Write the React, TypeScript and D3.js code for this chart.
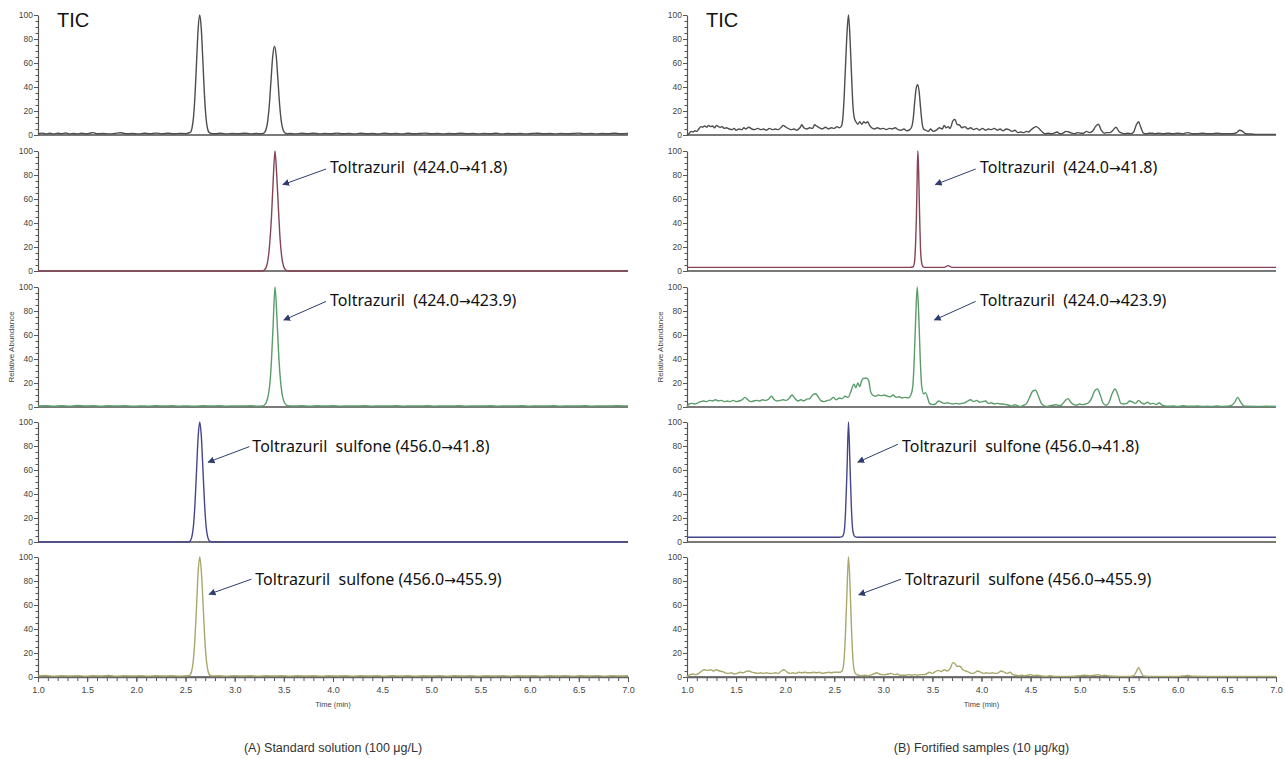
import React, { useEffect, useRef } from 'react';
import * as d3 from 'd3';

type Pt = [number, number];

// ---------- data ----------
const X_TICKS = [1.0, 1.5, 2.0, 2.5, 3.0, 3.5, 4.0, 4.5, 5.0, 5.5, 6.0, 6.5, 7.0];
const X_MINOR = d3.range(10, 71).map((i) => i / 10);
const Y_TICKS = [0, 20, 40, 60, 80, 100];
const Y_MINOR = d3.range(0, 101, 5);
const CAPTIONS = ['(A) Standard solution (100 μg/L)', '(B) Fortified samples (10 μg/kg)'];
const X_TITLE = 'Time (min)';
const Y_TITLE = 'Relative Abundance';
const TIC_LABEL = 'TIC';

// (A) Standard solution
const A_TIC: Pt[] = [
  [1.00, 1.0], [1.04, 1.6], [1.08, 0.9], [1.12, 1.5], [1.16, 0.8], [1.20, 1.4], [1.24, 1.0], [1.28, 1.7],
  [1.32, 0.9], [1.36, 1.3], [1.40, 0.8], [1.44, 1.5], [1.48, 1.1], [1.52, 1.3], [1.56, 2.0], [1.60, 1.0],
  [1.66, 1.2], [1.72, 0.9], [1.78, 1.3], [1.84, 1.9], [1.90, 1.0], [1.96, 1.2], [2.02, 0.9], [2.08, 1.4],
  [2.14, 1.0], [2.20, 1.6], [2.26, 1.1], [2.32, 1.5], [2.38, 1.0], [2.44, 1.3], [2.50, 1.1],
  [2.549, 2.1], [2.565, 5.4], [2.581, 14.5], [2.597, 33.5], [2.613, 61.7], [2.629, 89], [2.645, 100],
  [2.661, 88], [2.677, 61], [2.693, 33], [2.709, 14], [2.725, 5], [2.741, 2], [2.76, 1.2],
  [2.80, 1.0], [2.86, 1.4], [2.92, 0.9], [2.98, 1.3], [3.04, 1.0], [3.10, 1.5], [3.16, 0.9], [3.22, 1.2], [3.27, 1.0],
  [3.30, 1.8], [3.3175, 4.2], [3.335, 11], [3.3525, 25], [3.37, 46], [3.3875, 66], [3.405, 74],
  [3.4225, 66], [3.44, 46], [3.4575, 25], [3.475, 11], [3.4925, 4.2], [3.51, 1.8], [3.53, 1.1],
  [3.56, 1.2], [3.62, 0.9], [3.68, 1.4], [3.74, 1.0], [3.80, 1.5], [3.86, 0.9], [3.92, 1.3], [3.98, 1.0],
  [4.04, 1.6], [4.10, 1.0], [4.16, 1.3], [4.22, 0.9], [4.28, 1.4], [4.34, 1.0], [4.40, 1.2], [4.46, 0.8],
  [4.52, 1.5], [4.58, 1.0], [4.64, 1.3], [4.70, 0.9], [4.76, 1.4], [4.82, 1.0], [4.88, 1.2], [4.94, 1.6],
  [5.00, 1.0], [5.06, 1.3], [5.12, 0.9], [5.18, 1.2], [5.24, 1.0], [5.30, 1.5], [5.36, 1.0], [5.42, 1.2],
  [5.48, 0.9], [5.54, 1.3], [5.60, 1.0], [5.66, 1.4], [5.72, 0.9], [5.78, 1.2], [5.84, 1.0], [5.90, 1.3],
  [5.96, 0.9], [6.02, 1.2], [6.08, 1.5], [6.14, 1.0], [6.20, 1.2], [6.26, 0.9], [6.32, 1.3], [6.38, 1.0],
  [6.44, 1.2], [6.50, 1.6], [6.56, 1.0], [6.62, 1.3], [6.68, 0.9], [6.74, 1.2], [6.80, 1.0], [6.86, 1.4],
  [6.92, 1.0], [7.00, 1.2],
];

const A_Q1: Pt[] = [
  [1.00, 0], [3.28, 0], [3.305, 1.1], [3.3225, 3.5], [3.34, 10], [3.3575, 24], [3.375, 46], [3.3925, 77],
  [3.41, 100], [3.4275, 80], [3.445, 52], [3.4625, 26], [3.48, 11], [3.4975, 4], [3.515, 1.2], [3.535, 0.2],
  [3.56, 0], [7.00, 0],
];

const A_Q2: Pt[] = [
  [1.00, 0.8], [1.08, 1.1], [1.16, 0.6], [1.24, 1.0], [1.32, 0.7], [1.40, 1.2], [1.48, 0.8], [1.56, 1.0],
  [1.64, 0.6], [1.72, 1.1], [1.80, 0.8], [1.88, 1.0], [1.96, 0.6], [2.04, 0.9], [2.12, 0.7], [2.20, 1.1],
  [2.28, 0.8], [2.36, 1.0], [2.44, 0.7], [2.52, 0.9], [2.60, 0.6], [2.68, 1.0], [2.76, 0.8], [2.84, 1.1],
  [2.92, 0.7], [3.00, 0.9], [3.08, 0.8], [3.16, 1.0], [3.24, 0.7], [3.28, 0.9],
  [3.30, 1.5], [3.32, 3.6], [3.34, 9], [3.36, 21], [3.375, 40], [3.39, 66], [3.41, 100], [3.43, 74],
  [3.445, 48], [3.46, 28], [3.48, 12], [3.50, 5], [3.52, 2], [3.54, 1.1],
  [3.60, 0.8], [3.68, 1.0], [3.76, 0.7], [3.84, 1.0], [3.92, 0.8], [4.00, 1.1], [4.08, 0.7], [4.16, 0.9],
  [4.24, 0.8], [4.32, 1.0], [4.40, 0.7], [4.48, 0.9], [4.56, 0.8], [4.64, 1.1], [4.72, 0.7], [4.80, 0.9],
  [4.88, 0.8], [4.96, 1.0], [5.04, 0.7], [5.12, 0.9], [5.20, 0.8], [5.28, 1.0], [5.36, 0.7], [5.44, 0.9],
  [5.52, 0.8], [5.60, 1.0], [5.68, 0.7], [5.76, 0.9], [5.84, 0.8], [5.92, 1.0], [6.00, 0.7], [6.08, 0.9],
  [6.16, 0.8], [6.24, 1.0], [6.32, 0.7], [6.40, 0.9], [6.48, 0.8], [6.56, 1.0], [6.64, 0.7], [6.72, 0.9],
  [6.80, 0.8], [6.88, 1.0], [7.00, 0.8],
];

const A_S1: Pt[] = [
  [1.00, 0], [2.53, 0], [2.549, 1.1], [2.565, 4.4], [2.581, 13.5], [2.597, 32.5], [2.613, 60.7], [2.629, 88],
  [2.645, 100], [2.661, 88], [2.677, 61], [2.693, 33], [2.709, 13.5], [2.725, 4.4], [2.741, 1.1], [2.76, 0.2],
  [2.78, 0], [7.00, 0],
];

const A_S2: Pt[] = [
  [1.00, 0.9], [1.08, 1.2], [1.16, 0.7], [1.24, 1.0], [1.32, 0.8], [1.40, 1.1], [1.48, 0.7], [1.56, 1.0],
  [1.64, 0.8], [1.72, 1.2], [1.80, 0.7], [1.88, 1.0], [1.96, 0.8], [2.04, 1.1], [2.12, 0.7], [2.20, 1.0],
  [2.28, 0.8], [2.36, 1.1], [2.44, 0.7], [2.52, 1.0],
  [2.545, 1.6], [2.562, 4.6], [2.579, 13.5], [2.596, 32], [2.613, 60], [2.629, 88], [2.645, 100],
  [2.662, 87], [2.679, 60], [2.696, 32], [2.713, 13.5], [2.73, 4.6], [2.747, 1.6], [2.77, 0.9],
  [2.84, 1.0], [2.92, 0.7], [3.00, 1.1], [3.08, 0.8], [3.16, 1.0], [3.24, 0.7], [3.32, 1.0], [3.40, 0.8],
  [3.48, 1.1], [3.56, 0.7], [3.64, 1.0], [3.72, 0.8], [3.80, 1.1], [3.88, 0.7], [3.96, 1.0], [4.04, 0.8],
  [4.12, 1.1], [4.20, 0.7], [4.28, 1.0], [4.36, 0.8], [4.44, 1.1], [4.52, 0.7], [4.60, 1.0], [4.68, 0.8],
  [4.76, 1.1], [4.84, 0.7], [4.92, 1.0], [5.00, 0.8], [5.08, 1.1], [5.16, 0.7], [5.24, 1.0], [5.32, 0.8],
  [5.40, 1.1], [5.48, 0.7], [5.56, 1.0], [5.64, 0.8], [5.72, 1.1], [5.80, 0.7], [5.88, 1.0], [5.96, 0.8],
  [6.04, 1.1], [6.12, 0.7], [6.20, 1.0], [6.28, 0.8], [6.36, 1.1], [6.44, 0.7], [6.52, 1.0], [6.60, 0.8],
  [6.68, 1.1], [6.76, 0.7], [6.84, 1.0], [6.92, 0.8], [7.00, 1.0],
];

// (B) Fortified samples
const B_TIC: Pt[] = [
  [1.00, 0], [1.02, 1], [1.04, 3], [1.06, 2.5], [1.08, 3.5], [1.10, 3], [1.12, 5], [1.14, 7], [1.16, 6.5],
  [1.18, 7.5], [1.20, 6.5], [1.22, 8], [1.24, 7], [1.26, 7.5], [1.28, 6], [1.30, 8], [1.32, 7], [1.34, 6.5],
  [1.36, 7], [1.38, 5.5], [1.40, 6], [1.43, 5], [1.46, 4.5], [1.48, 5.5], [1.50, 4], [1.53, 5], [1.56, 4.5],
  [1.58, 6], [1.60, 5], [1.63, 6.5], [1.66, 5], [1.69, 4.5], [1.72, 5.5], [1.75, 4.5], [1.78, 5], [1.81, 4],
  [1.84, 5.5], [1.87, 4.5], [1.90, 5], [1.93, 4.5], [1.96, 6.5], [1.98, 8], [2.00, 7], [2.03, 5.5], [2.06, 4.5],
  [2.09, 5], [2.12, 4], [2.15, 6], [2.17, 8.5], [2.19, 6], [2.22, 5], [2.25, 6], [2.28, 5.5], [2.30, 8.5],
  [2.32, 7.5], [2.35, 6], [2.38, 5], [2.41, 6.5], [2.44, 5], [2.47, 6], [2.50, 5.5], [2.53, 7], [2.55, 6],
  [2.57, 7], [2.585, 12], [2.60, 30], [2.615, 58], [2.63, 85], [2.645, 100], [2.66, 82], [2.675, 52],
  [2.69, 25], [2.705, 14], [2.72, 11], [2.74, 9], [2.76, 11], [2.78, 9], [2.80, 11], [2.82, 10], [2.84, 11],
  [2.86, 8], [2.88, 6], [2.91, 5], [2.94, 6], [2.97, 5], [3.00, 5.5], [3.03, 4.5], [3.06, 5.5], [3.09, 5],
  [3.12, 6], [3.15, 4.5], [3.18, 4], [3.21, 5], [3.24, 3.5], [3.27, 4.5], [3.29, 7], [3.305, 14], [3.32, 28],
  [3.335, 39], [3.35, 42], [3.365, 36], [3.38, 22], [3.395, 10], [3.41, 5], [3.43, 4], [3.46, 3], [3.48, 5],
  [3.51, 3], [3.54, 4], [3.57, 6], [3.60, 5], [3.62, 8], [3.64, 6], [3.66, 7], [3.68, 5.5], [3.71, 12],
  [3.73, 13], [3.75, 9], [3.78, 8], [3.80, 6], [3.83, 7], [3.86, 5], [3.89, 6], [3.92, 4.5], [3.95, 5.5],
  [3.98, 4], [4.01, 5.5], [4.04, 4], [4.07, 5], [4.10, 4.5], [4.13, 5.5], [4.16, 4], [4.19, 5], [4.22, 3.5],
  [4.25, 5], [4.28, 4.5], [4.31, 3], [4.34, 4], [4.37, 2], [4.40, 2.5], [4.43, 2], [4.46, 3], [4.48, 2.5],
  [4.50, 4], [4.53, 6], [4.56, 7], [4.59, 5], [4.62, 2.5], [4.65, 1], [4.68, 1.5], [4.71, 1], [4.74, 1.5],
  [4.77, 2.5], [4.80, 1], [4.83, 1.5], [4.86, 3], [4.89, 2.5], [4.92, 1.5], [4.95, 1], [4.98, 2], [5.01, 1.5],
  [5.04, 1.5], [5.07, 3], [5.10, 2], [5.13, 3], [5.16, 7], [5.19, 9], [5.22, 4], [5.25, 1.5], [5.28, 2],
  [5.31, 2], [5.34, 4], [5.37, 6.5], [5.40, 3], [5.43, 1.5], [5.46, 1], [5.49, 1.5], [5.52, 1], [5.55, 2.5],
  [5.58, 9], [5.60, 11], [5.62, 7], [5.65, 1.5], [5.68, 1], [5.71, 1.5], [5.74, 1.5], [5.77, 1], [5.80, 1.5],
  [5.85, 1], [5.90, 1.5], [5.95, 1], [6.00, 1.5], [6.05, 1], [6.10, 2], [6.15, 1], [6.20, 1], [6.25, 1.5],
  [6.30, 1], [6.35, 1], [6.40, 1.5], [6.45, 1], [6.50, 1], [6.55, 1], [6.60, 2], [6.63, 4], [6.66, 3],
  [6.69, 1], [6.75, 0.8], [6.80, 0.5], [6.90, 0.5], [7.00, 0.5],
];

const B_Q1: Pt[] = [
  [1.00, 3], [3.27, 3], [3.30, 3.3], [3.315, 6], [3.327, 20], [3.337, 45], [3.345, 80], [3.352, 100],
  [3.36, 82], [3.369, 48], [3.378, 20], [3.39, 7], [3.405, 3.5], [3.43, 3], [3.62, 3], [3.66, 4.5],
  [3.70, 3], [7.00, 3],
];

const B_Q2: Pt[] = [
  [1.00, 0], [1.02, 2.5], [1.05, 3], [1.08, 2.5], [1.11, 3.5], [1.14, 4.5], [1.17, 5], [1.20, 4.5],
  [1.23, 5.5], [1.26, 5], [1.29, 6], [1.32, 5], [1.35, 5.5], [1.38, 4.5], [1.41, 5], [1.44, 4.5], [1.47, 5.5],
  [1.50, 4.5], [1.53, 5], [1.56, 6], [1.59, 8], [1.62, 6], [1.65, 4.5], [1.68, 5], [1.71, 5.5], [1.74, 5],
  [1.77, 6], [1.80, 5.5], [1.83, 6.5], [1.86, 9], [1.89, 6], [1.92, 5], [1.95, 5.5], [1.98, 6], [2.01, 5.5],
  [2.04, 7], [2.07, 10], [2.10, 7], [2.13, 5], [2.16, 6], [2.19, 5], [2.22, 6.5], [2.25, 7], [2.28, 10],
  [2.31, 11], [2.34, 8], [2.37, 5], [2.40, 4.5], [2.43, 5.5], [2.46, 6], [2.49, 8], [2.52, 6], [2.55, 7.5],
  [2.58, 7], [2.61, 9], [2.64, 8], [2.67, 13], [2.70, 19], [2.72, 16], [2.74, 20], [2.76, 17], [2.78, 22],
  [2.80, 24], [2.83, 24], [2.85, 22], [2.87, 13], [2.89, 10], [2.92, 9], [2.95, 10], [2.98, 9.5], [3.01, 10],
  [3.04, 9], [3.07, 8.5], [3.10, 10], [3.13, 8], [3.16, 8.5], [3.19, 7.5], [3.22, 8], [3.25, 7.5], [3.28, 10],
  [3.30, 17], [3.315, 40], [3.33, 75], [3.345, 100], [3.36, 78], [3.375, 42], [3.39, 18], [3.41, 11],
  [3.43, 12], [3.45, 8], [3.47, 3], [3.50, 2], [3.53, 2.5], [3.56, 5], [3.59, 4], [3.62, 3], [3.65, 3.5],
  [3.68, 3], [3.71, 2.5], [3.74, 3], [3.77, 2.5], [3.80, 3], [3.83, 3.5], [3.86, 5], [3.89, 6], [3.92, 4.5],
  [3.95, 5.5], [3.98, 4], [4.01, 4.5], [4.04, 5], [4.07, 3], [4.10, 3.5], [4.13, 2.5], [4.16, 3], [4.19, 2.5],
  [4.22, 2.5], [4.25, 2], [4.28, 1.5], [4.31, 0.8], [4.34, 2], [4.37, 1], [4.40, 0.5], [4.43, 1.5], [4.46, 3],
  [4.49, 8], [4.52, 13], [4.55, 14], [4.58, 9], [4.61, 3], [4.64, 1], [4.67, 0.5], [4.70, 1], [4.73, 1.5],
  [4.76, 2], [4.79, 1], [4.82, 2], [4.85, 5], [4.88, 7], [4.91, 4], [4.94, 2], [4.97, 1.5], [5.00, 2.5],
  [5.03, 2], [5.06, 2.5], [5.09, 3.5], [5.12, 7], [5.15, 13], [5.18, 15], [5.21, 10], [5.24, 3], [5.27, 1.5],
  [5.30, 4], [5.33, 11], [5.36, 15], [5.39, 10], [5.42, 3], [5.45, 2.5], [5.48, 3], [5.51, 5], [5.54, 4],
  [5.57, 3], [5.60, 5.5], [5.63, 3.5], [5.66, 2.5], [5.69, 4], [5.72, 2.5], [5.75, 3], [5.78, 2], [5.81, 3.5],
  [5.84, 1.5], [5.87, 0.8], [5.90, 0.6], [5.95, 0.8], [6.00, 0.5], [6.05, 1], [6.10, 0.6], [6.15, 0.6],
  [6.20, 0.8], [6.25, 0.5], [6.30, 0.6], [6.35, 0.5], [6.40, 0.8], [6.45, 0.5], [6.50, 0.6], [6.55, 1.5],
  [6.58, 4], [6.61, 8], [6.64, 4], [6.67, 1], [6.70, 0.6], [6.80, 0.5], [6.90, 0.6], [7.00, 0.5],
];

const B_S1: Pt[] = [
  [1.00, 4], [2.55, 4], [2.58, 4.5], [2.60, 8], [2.615, 25], [2.63, 60], [2.645, 100], [2.66, 65],
  [2.675, 28], [2.69, 9], [2.71, 4.5], [2.74, 4], [7.00, 4],
];

const B_S2: Pt[] = [
  [1.00, 0], [1.03, 2], [1.06, 2.5], [1.09, 2], [1.12, 3], [1.15, 5], [1.18, 6], [1.21, 5.5], [1.24, 6],
  [1.27, 5], [1.30, 6], [1.33, 5], [1.36, 4.5], [1.39, 3.5], [1.42, 3], [1.45, 3.5], [1.48, 2.5], [1.51, 3],
  [1.54, 4], [1.57, 3.5], [1.60, 4.5], [1.63, 5], [1.66, 4], [1.69, 3.5], [1.72, 3], [1.75, 3.5], [1.78, 3],
  [1.81, 3.5], [1.84, 3], [1.87, 3], [1.90, 3.5], [1.93, 3], [1.96, 5], [1.99, 6], [2.02, 4], [2.05, 3],
  [2.08, 3.5], [2.11, 3], [2.14, 4], [2.17, 3.5], [2.20, 4], [2.23, 3.5], [2.26, 3.5], [2.29, 4], [2.32, 3.5],
  [2.35, 4], [2.38, 3], [2.41, 3.5], [2.44, 4], [2.47, 3.5], [2.50, 4], [2.53, 4], [2.56, 4], [2.58, 5],
  [2.60, 14], [2.615, 38], [2.63, 72], [2.645, 100], [2.66, 78], [2.675, 42], [2.69, 15], [2.705, 5],
  [2.72, 2.5], [2.75, 1.5], [2.78, 1], [2.81, 1.5], [2.84, 1], [2.87, 1.5], [2.90, 2.5], [2.93, 3.5],
  [2.96, 2.5], [2.99, 2], [3.02, 2], [3.05, 2.5], [3.08, 3], [3.11, 2], [3.14, 2.5], [3.17, 1.5], [3.20, 1.5],
  [3.23, 1.5], [3.26, 2], [3.29, 1.5], [3.32, 2], [3.35, 1.5], [3.38, 2], [3.41, 2], [3.44, 2.5], [3.47, 4],
  [3.50, 3], [3.53, 4.5], [3.56, 5.5], [3.59, 4.5], [3.62, 6], [3.65, 5], [3.68, 7], [3.71, 12], [3.73, 11],
  [3.75, 9], [3.78, 9], [3.81, 6], [3.84, 5], [3.87, 4], [3.90, 3], [3.93, 3.5], [3.96, 5], [3.99, 4],
  [4.02, 3], [4.05, 3.5], [4.08, 3], [4.11, 3.5], [4.14, 3], [4.17, 3.5], [4.20, 5], [4.23, 4], [4.26, 3],
  [4.29, 4], [4.32, 2], [4.35, 1.5], [4.38, 1], [4.41, 1.5], [4.44, 1], [4.47, 1.5], [4.50, 2], [4.53, 1],
  [4.56, 1.5], [4.60, 1], [4.65, 0.5], [4.70, 1], [4.75, 0.5], [4.80, 0.5], [4.90, 0.5], [5.00, 1],
  [5.05, 1.5], [5.10, 1], [5.15, 1.5], [5.19, 2], [5.22, 1], [5.26, 1.5], [5.30, 0.8], [5.40, 0.5],
  [5.50, 0.5], [5.55, 1], [5.58, 5], [5.60, 8], [5.62, 5], [5.65, 0.8], [5.70, 0.5], [5.80, 0.5], [5.90, 0.5],
  [6.00, 0.5], [6.05, 0.8], [6.10, 1.2], [6.15, 0.6], [6.30, 0.5], [6.50, 0.5], [6.70, 0.5], [7.00, 0.5],
];

const TRACES: Pt[][][] = [
  [A_TIC, A_Q1, A_Q2, A_S1, A_S2],
  [B_TIC, B_Q1, B_Q2, B_S1, B_S2],
];

const LABEL_Q1 = 'Toltrazuril  (424.0→41.8)';
const LABEL_Q2 = 'Toltrazuril  (424.0→423.9)';
const LABEL_S1 = 'Toltrazuril  sulfone (456.0→41.8)';
const LABEL_S2 = 'Toltrazuril  sulfone (456.0→455.9)';

// annotations: label anchor (tx,ty) and arrow from (sx,sy) to (ex,ey), all in data units
const ANNOTATIONS = [
  { side: 0, panel: 1, label: LABEL_Q1, tx: 3.97, ty: 86, sx: 3.93, sy: 85, ex: 3.49, ey: 72 },
  { side: 0, panel: 2, label: LABEL_Q2, tx: 3.97, ty: 89, sx: 3.93, sy: 88, ex: 3.50, ey: 72.5 },
  { side: 0, panel: 3, label: LABEL_S1, tx: 3.18, ty: 80, sx: 3.15, sy: 79.5, ex: 2.73, ey: 66.5 },
  { side: 0, panel: 4, label: LABEL_S2, tx: 3.21, ty: 81, sx: 3.17, sy: 81.5, ex: 2.74, ey: 69 },
  { side: 1, panel: 1, label: LABEL_Q1, tx: 3.985, ty: 86, sx: 3.94, sy: 85, ex: 3.53, ey: 72 },
  { side: 1, panel: 2, label: LABEL_Q2, tx: 3.985, ty: 89, sx: 3.94, sy: 88, ex: 3.52, ey: 72.5 },
  { side: 1, panel: 3, label: LABEL_S1, tx: 3.19, ty: 80, sx: 3.15, sy: 81.5, ex: 2.74, ey: 66.5 },
  { side: 1, panel: 4, label: LABEL_S2, tx: 3.22, ty: 81, sx: 3.18, sy: 81.5, ex: 2.75, ey: 68.5 },
];

// ---------- layout / style ----------
const W = 1285;
const H = 759;
const SIDES = [
  { x0: 38, x1: 628 },
  { x0: 687, x1: 1276 },
];
const PANEL_TOPS = [15, 151, 287, 422, 557];
const PANEL_H = 120;
const COLORS = ['#4d4d4d', '#844454', '#5a9c6a', '#45458c', '#a8a86c'];
const AXIS_FONT = "'Liberation Sans Narrow', 'Arial Narrow', 'Liberation Sans', Arial, sans-serif";
const TEXT_FONT = "'Liberation Sans', Arial, sans-serif";
const ANNOT_FONT = "'Noto Sans', 'Open Sans', sans-serif";
const ARROW_FONT = "'DejaVu Sans', sans-serif";

export default function App() {
  const ref = useRef<SVGSVGElement | null>(null);

  useEffect(() => {
    const svg = d3.select(ref.current);
    svg.selectAll('*').remove();

    svg
      .append('defs')
      .append('marker')
      .attr('id', 'arrowhead')
      .attr('viewBox', '0 0 10 10')
      .attr('refX', 9)
      .attr('refY', 5)
      .attr('markerWidth', 7)
      .attr('markerHeight', 7)
      .attr('markerUnits', 'userSpaceOnUse')
      .attr('orient', 'auto')
      .append('path')
      .attr('d', 'M0,0 L10,5 L0,10 Z')
      .attr('fill', '#2e3d6e');

    SIDES.forEach((side, si) => {
      const x = d3.scaleLinear().domain([1, 7]).range([side.x0, side.x1]);
      const g = svg.append('g');

      PANEL_TOPS.forEach((top, pi) => {
        const y = d3.scaleLinear().domain([0, 100]).range([top + PANEL_H, top]);
        const pg = g.append('g');

        // baseline axis
        pg.append('line')
          .attr('x1', x(1))
          .attr('x2', x(7))
          .attr('y1', y(0))
          .attr('y2', y(0))
          .attr('stroke', '#7a7a7a')
          .attr('stroke-width', 1.8);

        // bottom x axis
        if (pi === PANEL_TOPS.length - 1) {
          const minorX = pg
            .append('g')
            .attr('transform', `translate(0,${y(0)})`)
            .call(d3.axisBottom(x).tickValues(X_MINOR).tickSize(4).tickFormat(() => ''));
          minorX.select('.domain').remove();
          minorX.selectAll('line').attr('stroke', '#555');
          const majorX = pg
            .append('g')
            .attr('transform', `translate(0,${y(0)})`)
            .call(
              d3
                .axisBottom(x)
                .tickValues(X_TICKS)
                .tickSize(5)
                .tickSizeOuter(0)
                .tickPadding(5)
                .tickFormat(d3.format('.1f'))
            );
          majorX.select('.domain').attr('stroke', '#666').attr('stroke-width', 1.4);
          majorX.selectAll('line').attr('stroke', '#555');
          majorX
            .selectAll('text')
            .attr('fill', '#444')
            .style('font-family', AXIS_FONT)
            .style('font-size', '9px');
          pg.append('text')
            .attr('x', (x(1) + x(7)) / 2)
            .attr('y', y(0) + 30)
            .attr('text-anchor', 'middle')
            .attr('fill', '#444')
            .style('font-family', AXIS_FONT)
            .style('font-size', '7.5px')
            .text(X_TITLE);
        }

        // y axis
        const minorY = pg
          .append('g')
          .attr('transform', `translate(${x(1)},0)`)
          .call(d3.axisLeft(y).tickValues(Y_MINOR).tickSize(2.5).tickFormat(() => ''));
        minorY.select('.domain').remove();
        minorY.selectAll('line').attr('stroke', '#555');
        const majorY = pg
          .append('g')
          .attr('transform', `translate(${x(1)},0)`)
          .call(
            d3
              .axisLeft(y)
              .tickValues(Y_TICKS)
              .tickSize(4)
              .tickSizeOuter(0)
              .tickPadding(1)
              .tickFormat(d3.format('d'))
          );
        majorY.select('.domain').attr('stroke', '#555').attr('stroke-width', 1.2);
        majorY.selectAll('line').attr('stroke', '#555');
        majorY
          .selectAll('text')
          .attr('fill', '#444')
          .style('font-family', AXIS_FONT)
          .style('font-size', '8.5px');

        // trace
        const line = d3
          .line<Pt>()
          .x((d) => x(d[0]))
          .y((d) => y(d[1]))
          .curve(d3.curveMonotoneX);
        pg.append('path')
          .datum(TRACES[si][pi])
          .attr('d', line)
          .attr('fill', 'none')
          .attr('stroke', COLORS[pi])
          .attr('stroke-width', 1.4)
          .attr('stroke-linejoin', 'round');

        if (pi === 0) {
          pg.append('text')
            .attr('x', x(1) + 19)
            .attr('y', y(100) + 12)
            .attr('fill', '#111')
            .style('font-family', TEXT_FONT)
            .style('font-size', '20px')
            .text(TIC_LABEL);
        }

        if (pi === 2) {
          pg.append('text')
            .attr('transform', `translate(${x(1) - 24},${top + PANEL_H / 2}) rotate(-90)`)
            .attr('text-anchor', 'middle')
            .attr('fill', '#444')
            .style('font-family', AXIS_FONT)
            .style('font-size', '8px')
            .text(Y_TITLE);
        }

        ANNOTATIONS.filter((a) => a.side === si && a.panel === pi).forEach((a) => {
          pg.append('line')
            .attr('x1', x(a.sx))
            .attr('y1', y(a.sy))
            .attr('x2', x(a.ex))
            .attr('y2', y(a.ey))
            .attr('stroke', '#2e3d6e')
            .attr('stroke-width', 1)
            .attr('marker-end', 'url(#arrowhead)');
          const t = pg
            .append('text')
            .attr('x', x(a.tx))
            .attr('y', y(a.ty))
            .attr('dy', '0.35em')
            .attr('fill', '#111')
            .style('font-family', ANNOT_FONT)
            .style('font-size', '16px')
            .style('white-space', 'pre');
          const parts = a.label.split('→');
          t.append('tspan').text(parts[0]);
          t.append('tspan').style('font-family', ARROW_FONT).style('font-size', '14px').text('→');
          t.append('tspan').text(parts[1]);
        });
      });

      svg
        .append('text')
        .attr('x', (side.x0 + side.x1) / 2)
        .attr('y', 752)
        .attr('text-anchor', 'middle')
        .attr('fill', '#333')
        .style('font-family', TEXT_FONT)
        .style('font-size', '12.5px')
        .text(CAPTIONS[si]);
    });
  }, []);

  return (
    <svg
      ref={ref}
      width={W}
      height={H}
      style={{ position: 'absolute', left: 0, top: 0, background: '#fff' }}
    />
  );
}
